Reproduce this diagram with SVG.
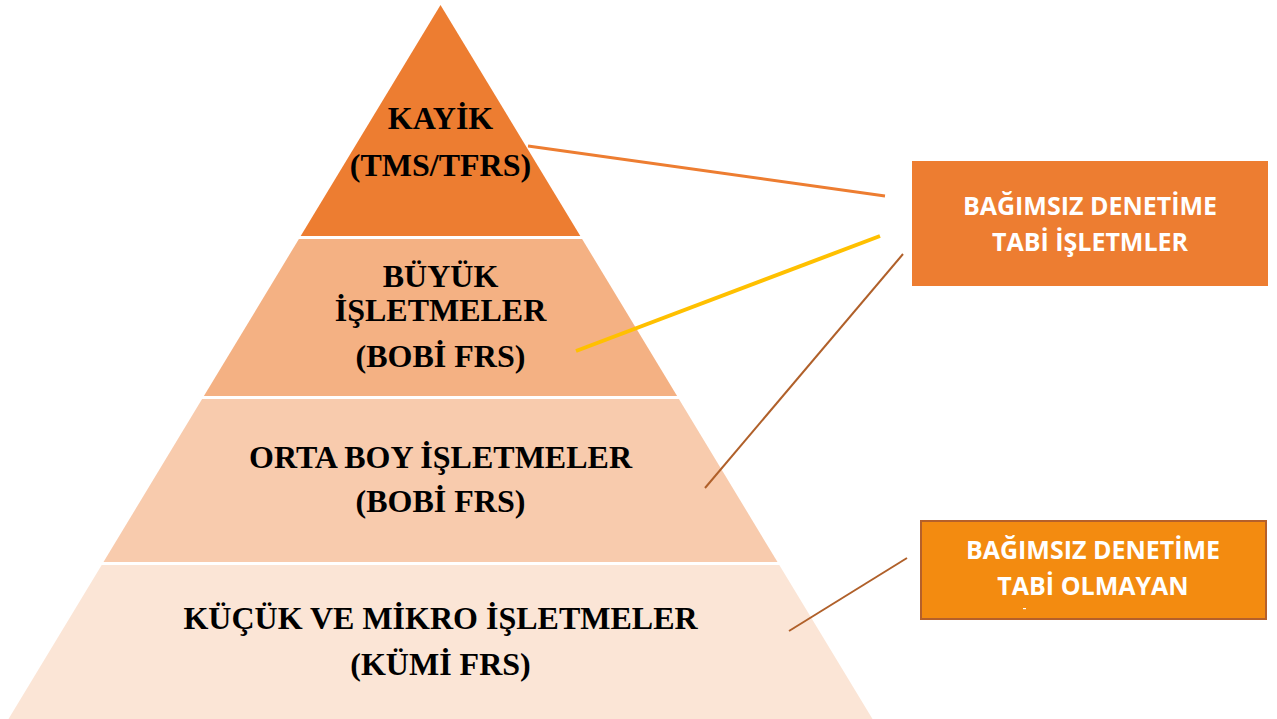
<svg xmlns="http://www.w3.org/2000/svg" width="1277" height="719" viewBox="0 0 1277 719">
  <style>
    .lvl { font-family: "Liberation Serif", "Times New Roman", serif; font-weight: bold; font-size: 32px; fill: #000; text-anchor: middle; }
    .box { font-family: "Open Sans", "Liberation Sans", sans-serif; font-weight: bold; font-size: 25px; fill: #fff; text-anchor: middle; }
  </style>
  <rect x="0" y="0" width="1277" height="719" fill="#ffffff"/>
  <g id="level-kayik">
    <polygon points="440.5,5 580.3,236 300.7,236" fill="#ED7D31"/>
    <text class="lvl" x="440.5" y="129">KAYİK</text>
    <text class="lvl" x="440.5" y="176">(TMS/TFRS)</text>
  </g>
  <g id="level-buyuk">
    <polygon points="298.9,239 582.1,239 677.1,396 203.9,396" fill="#F4B183"/>
    <text class="lvl" x="440.5" y="287">BÜYÜK</text>
    <text class="lvl" x="440.5" y="321">İŞLETMELER</text>
    <text class="lvl" x="440.5" y="367">(BOBİ FRS)</text>
  </g>
  <g id="level-orta">
    <polygon points="202.1,399 678.9,399 777.5,562 103.5,562" fill="#F8CBAD"/>
    <text class="lvl" x="440.5" y="468">ORTA BOY İŞLETMELER</text>
    <text class="lvl" x="440.5" y="512">(BOBİ FRS)</text>
  </g>
  <g id="level-kucuk">
    <polygon points="101.7,565 779.3,565 872.5,719 8.5,719" fill="#FBE5D6"/>
    <text class="lvl" x="440.5" y="629">KÜÇÜK VE MİKRO İŞLETMELER</text>
    <text class="lvl" x="440.5" y="675">(KÜMİ FRS)</text>
  </g>
  <g id="connectors" fill="none" stroke-linecap="butt">
    <line x1="528" y1="146" x2="885" y2="196" stroke="#ED7D31" stroke-width="3"/>
    <line x1="576" y1="351" x2="880" y2="236" stroke="#FFC000" stroke-width="4"/>
    <line x1="705" y1="488" x2="903" y2="254" stroke="#B0602A" stroke-width="2"/>
    <line x1="789" y1="631" x2="907" y2="558" stroke="#B0602A" stroke-width="2"/>
  </g>
  <g id="box-denetime-tabi">
    <rect x="912" y="161" width="356" height="125" fill="#ED7D31"/>
    <text class="box" x="1090" y="215">BAĞIMSIZ DENETİME</text>
    <text class="box" x="1090" y="251">TABİ İŞLETMLER</text>
  </g>
  <g id="box-denetime-tabi-olmayan">
    <rect x="921" y="521" width="345" height="98" fill="#F38B10" stroke="#B5602A" stroke-width="2"/>
    <text class="box" x="1093" y="559">BAĞIMSIZ DENETİME</text>
    <text class="box" x="1093" y="595">TABİ OLMAYAN</text>
    <rect x="1023" y="608" width="3" height="1.2" fill="#fff"/>
  </g>
</svg>
